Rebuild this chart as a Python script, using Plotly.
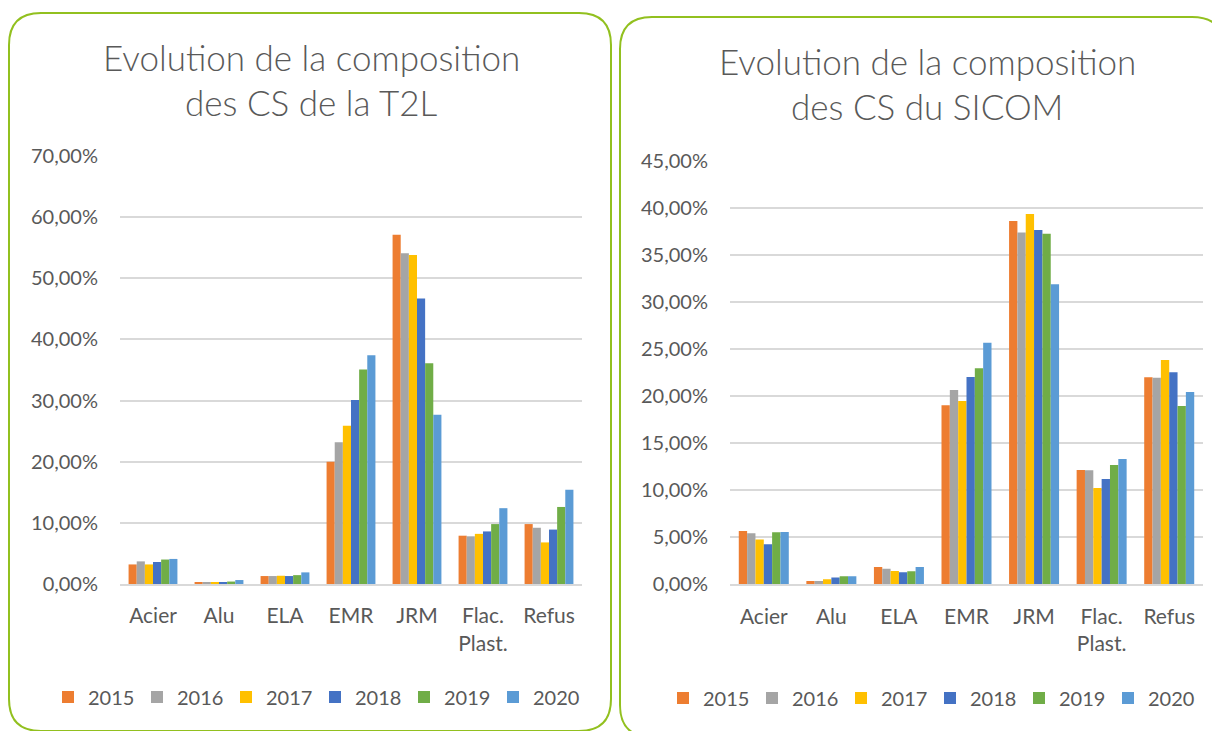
import plotly.graph_objects as go

# The page body has an 8px margin, so the figure is sized to fill the rest of the window
OFF = 8
W, H = 1220 - OFF, 731 - OFF

categories = ["Acier", "Alu", "ELA", "EMR", "JRM", "Flac.<br>Plast.", "Refus"]
years = ["2015", "2016", "2017", "2018", "2019", "2020"]
colors = ["#ED7D31", "#A5A5A5", "#FFC000", "#4472C4", "#70AD47", "#5B9BD5"]

# T2L composition (fractions), one list per year
t2l_2015 = [0.032, 0.002, 0.013, 0.200, 0.571, 0.079, 0.098]
t2l_2016 = [0.037, 0.002, 0.013, 0.232, 0.541, 0.078, 0.092]
t2l_2017 = [0.032, 0.0025, 0.0135, 0.259, 0.538, 0.082, 0.068]
t2l_2018 = [0.036, 0.003, 0.013, 0.301, 0.467, 0.086, 0.089]
t2l_2019 = [0.040, 0.004, 0.0145, 0.351, 0.361, 0.098, 0.126]
t2l_2020 = [0.041, 0.0065, 0.019, 0.374, 0.277, 0.124, 0.154]

# SICOM composition (fractions), one list per year
sicom_2015 = [0.0567, 0.0035, 0.0184, 0.1902, 0.386, 0.1215, 0.2199]
sicom_2016 = [0.0542, 0.0035, 0.0166, 0.2064, 0.3736, 0.1211, 0.2195]
sicom_2017 = [0.0475, 0.0053, 0.0142, 0.1948, 0.3934, 0.1023, 0.2383]
sicom_2018 = [0.0425, 0.0071, 0.0127, 0.2203, 0.3764, 0.1119, 0.2252]
sicom_2019 = [0.0552, 0.0085, 0.0138, 0.2295, 0.3725, 0.1268, 0.1894]
sicom_2020 = [0.0556, 0.0085, 0.0184, 0.2567, 0.3187, 0.1331, 0.2043]

t2l = [t2l_2015, t2l_2016, t2l_2017, t2l_2018, t2l_2019, t2l_2020]
sicom = [sicom_2015, sicom_2016, sicom_2017, sicom_2018, sicom_2019, sicom_2020]

FONT = "Lato"
TXT = "#595959"
GRID = "#D9D9D9"
BORDER = "#92C01F"


def px(x):
    return (x - OFF) / W


def py(y):
    return 1 - (y - OFF) / H


fig = go.Figure()
for i, y in enumerate(years):
    fig.add_trace(go.Bar(x=categories, y=t2l[i], name=y, marker_color=colors[i],
                         marker_line_width=0, xaxis="x", yaxis="y", legend="legend"))
for i, y in enumerate(years):
    fig.add_trace(go.Bar(x=categories, y=sicom[i], name=y, marker_color=colors[i],
                         marker_line_width=0, xaxis="x2", yaxis="y2", legend="legend2"))


def rounded_box(x0, y0, x1, y1, r):
    rx, ry = r / W, r / H
    X0, X1 = px(x0), px(x1)
    Y0, Y1 = py(y0), py(y1)  # Y0 top, Y1 bottom
    return (f"M {X0+rx},{Y0} L {X1-rx},{Y0} Q {X1},{Y0} {X1},{Y0-ry} "
            f"L {X1},{Y1+ry} Q {X1},{Y1} {X1-rx},{Y1} L {X0+rx},{Y1} "
            f"Q {X0},{Y1} {X0},{Y1+ry} L {X0},{Y0-ry} Q {X0},{Y0} {X0+rx},{Y0} Z")


shapes = [
    dict(type="path", xref="paper", yref="paper", path=rounded_box(9, 13, 611, 731, 32),
         line=dict(color=BORDER, width=2), layer="below"),
    dict(type="path", xref="paper", yref="paper", path=rounded_box(620, 17, 1224, 737, 32),
         line=dict(color=BORDER, width=2), layer="below"),
]

annotations = []
for (xc, y1, l1, l2) in [(311, 57, "Evolution de la composition", "des CS de la T2L"),
                         (927, 61, "Evolution de la composition", "des CS du SICOM")]:
    for k, txt in enumerate([l1, l2]):
        annotations.append(dict(text=txt, x=px(xc), y=py(y1 + 45 * k), xref="paper", yref="paper",
                                showarrow=False, xanchor="center", yanchor="middle",
                                font=dict(family=FONT, size=35, color=TXT, weight=300)))

xaxis_common = dict(type="category", showgrid=False, showline=True, linecolor=GRID,
                    linewidth=2, ticks="", tickfont=dict(family=FONT, size=21, color=TXT),
                    ticklabelstandoff=12, zeroline=False, fixedrange=True)
yaxis_common = dict(showgrid=True, gridcolor=GRID, gridwidth=2, showline=False, ticks="",
                    tickformat=".2%", tickfont=dict(family=FONT, size=20, color=TXT),
                    zeroline=False, ticklabelstandoff=21, fixedrange=True)

legend_common = dict(orientation="h", xanchor="left", yanchor="middle",
                     entrywidth=44, entrywidthmode="pixels", bgcolor="rgba(0,0,0,0)",
                     font=dict(family=FONT, size=20, color=TXT),
                     itemclick=False, itemdoubleclick=False)

fig.update_layout(
    width=W, height=H,
    margin=dict(l=0, r=0, t=0, b=0, autoexpand=False),
    paper_bgcolor="white", plot_bgcolor="white",
    separators=", ",
    barmode="group", bargap=0.26, bargroupgap=0,
    font=dict(family=FONT, color=TXT),
    xaxis=dict(domain=[px(120), px(582)], anchor="y", **xaxis_common),
    yaxis=dict(domain=[py(584), py(156)], anchor="x", range=[0, 0.70], dtick=0.10, **yaxis_common),
    xaxis2=dict(domain=[px(730), px(1203)], anchor="y2", **xaxis_common),
    yaxis2=dict(domain=[py(584.3), py(160.7)], anchor="x2", range=[0, 0.45], dtick=0.05, **yaxis_common),
    legend=dict(x=px(48), y=py(697), **legend_common),
    legend2=dict(x=px(663), y=py(698), **legend_common),
    shapes=shapes,
    annotations=annotations,
)

fig.write_html("out.html")
